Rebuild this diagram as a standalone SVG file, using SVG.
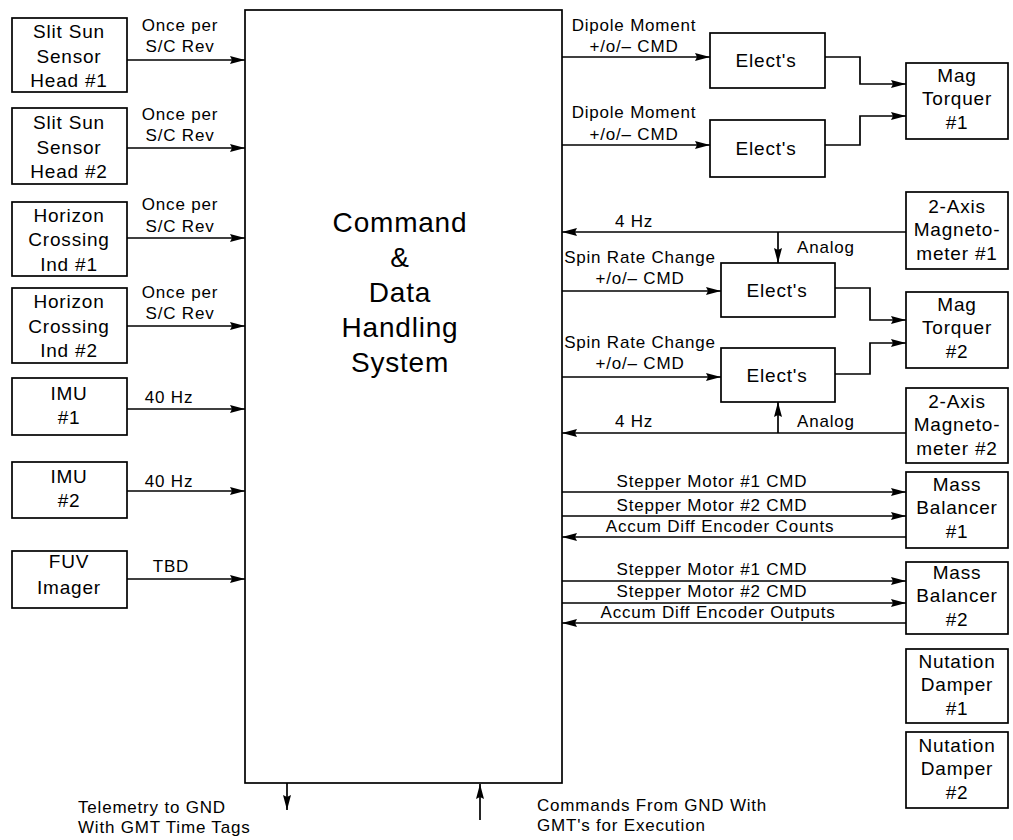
<svg xmlns="http://www.w3.org/2000/svg" width="1013" height="840" viewBox="0 0 1013 840">
<style>
.box{fill:#fff;stroke:#000;stroke-width:1.7}
.ln{fill:none;stroke:#000;stroke-width:1.7}
.arr{marker-end:url(#ah)}
text{font-family:"Liberation Sans",Arial,Helvetica,sans-serif;fill:#000}
.nt{font-size:19px;letter-spacing:0.8px;text-anchor:middle}
.lb{font-size:17px;letter-spacing:0.8px;text-anchor:middle}
.ll{font-size:17px;letter-spacing:0.8px}
.big{font-size:28px;letter-spacing:0.8px;text-anchor:middle}
</style>
<defs>
<marker id="ah" viewBox="0 0 15 9" refX="15" refY="4.5" markerWidth="15" markerHeight="9" markerUnits="userSpaceOnUse" orient="auto">
<path d="M0,0.5 L15,4.5 L0,8.5 L2,4.5 Z" fill="#000"/>
</marker>
</defs>
<rect width="1013" height="840" fill="#fff"/>

<g id="connectors">
<line class="ln arr" x1="127" y1="60" x2="245" y2="60"/>
<line class="ln arr" x1="127" y1="148" x2="245" y2="148"/>
<line class="ln arr" x1="127" y1="238" x2="245" y2="238"/>
<line class="ln arr" x1="127" y1="326" x2="245" y2="326"/>
<line class="ln arr" x1="127" y1="409" x2="245" y2="409"/>
<line class="ln arr" x1="127" y1="491" x2="245" y2="491"/>
<line class="ln arr" x1="127" y1="579" x2="245" y2="579"/>
<line class="ln arr" x1="562" y1="57" x2="710" y2="57"/>
<line class="ln arr" x1="562" y1="145" x2="710" y2="145"/>
<polyline class="ln arr" points="825,57 860,57 860,84 906,84"/>
<polyline class="ln arr" points="825,145 860,145 860,116 906,116"/>
<line class="ln arr" x1="906" y1="232" x2="562" y2="232"/>
<line class="ln arr" x1="778" y1="232" x2="778" y2="263"/>
<line class="ln arr" x1="562" y1="291" x2="721" y2="291"/>
<polyline class="ln arr" points="835,288 870,288 870,320 906,320"/>
<line class="ln arr" x1="562" y1="377" x2="721" y2="377"/>
<polyline class="ln arr" points="835,374 870,374 870,343 906,343"/>
<line class="ln arr" x1="906" y1="433" x2="562" y2="433"/>
<line class="ln arr" x1="778" y1="433" x2="778" y2="402"/>
<line class="ln arr" x1="562" y1="492" x2="906" y2="492"/>
<line class="ln arr" x1="562" y1="516" x2="906" y2="516"/>
<line class="ln arr" x1="906" y1="537" x2="562" y2="537"/>
<line class="ln arr" x1="562" y1="581" x2="906" y2="581"/>
<line class="ln arr" x1="562" y1="603" x2="906" y2="603"/>
<line class="ln arr" x1="906" y1="623" x2="562" y2="623"/>
<line class="ln arr" x1="287" y1="783" x2="287" y2="810"/>
<line class="ln arr" x1="480" y1="820" x2="480" y2="784"/>
</g>

<g id="connector-labels">
<text class="lb" x="180" y="31">Once per</text>
<text class="lb" x="180" y="52">S/C Rev</text>
<text class="lb" x="180" y="120">Once per</text>
<text class="lb" x="180" y="141">S/C Rev</text>
<text class="lb" x="180" y="210">Once per</text>
<text class="lb" x="180" y="232">S/C Rev</text>
<text class="lb" x="180" y="298">Once per</text>
<text class="lb" x="180" y="319">S/C Rev</text>
<text class="lb" x="169" y="403">40 Hz</text>
<text class="lb" x="169" y="487">40 Hz</text>
<text class="lb" x="171" y="572">TBD</text>
<text class="lb" x="634" y="31">Dipole Moment</text>
<text class="lb" x="634" y="52">+/o/– CMD</text>
<text class="lb" x="634" y="118">Dipole Moment</text>
<text class="lb" x="634" y="140">+/o/– CMD</text>
<text class="lb" x="634" y="227">4 Hz</text>
<text class="ll" x="797" y="253">Analog</text>
<text class="lb" x="640" y="263">Spin Rate Change</text>
<text class="lb" x="640" y="284">+/o/– CMD</text>
<text class="lb" x="640" y="348">Spin Rate Change</text>
<text class="lb" x="640" y="369">+/o/– CMD</text>
<text class="lb" x="634" y="427">4 Hz</text>
<text class="ll" x="797" y="427">Analog</text>
<text class="lb" x="712" y="487">Stepper Motor #1 CMD</text>
<text class="lb" x="712" y="511">Stepper Motor #2 CMD</text>
<text class="lb" x="720" y="532">Accum Diff Encoder Counts</text>
<text class="lb" x="712" y="575">Stepper Motor #1 CMD</text>
<text class="lb" x="712" y="597">Stepper Motor #2 CMD</text>
<text class="lb" x="718" y="618">Accum Diff Encoder Outputs</text>
<text class="ll" x="78" y="813">Telemetry to GND</text>
<text class="ll" x="78" y="833">With GMT Time Tags</text>
<text class="ll" x="537" y="811">Commands From GND With</text>
<text class="ll" x="537" y="831">GMT's for Execution</text>
</g>

<g id="cdhs">
<rect class="box" x="245" y="10" width="317" height="773"/>
<text class="big" x="400" y="232">Command</text>
<text class="big" x="400" y="267">&amp;</text>
<text class="big" x="400" y="302">Data</text>
<text class="big" x="400" y="337">Handling</text>
<text class="big" x="400" y="372">System</text>
</g>

<g id="sun1"><rect class="box" x="12" y="18" width="115" height="74"/>
<text class="nt" x="69" y="38">Slit Sun</text><text class="nt" x="69" y="63">Sensor</text><text class="nt" x="69" y="87">Head #1</text></g>
<g id="sun2"><rect class="box" x="12" y="108" width="115" height="76"/>
<text class="nt" x="69" y="129">Slit Sun</text><text class="nt" x="69" y="154">Sensor</text><text class="nt" x="69" y="178">Head #2</text></g>
<g id="hci1"><rect class="box" x="12" y="202" width="115" height="74"/>
<text class="nt" x="69" y="222">Horizon</text><text class="nt" x="69" y="246">Crossing</text><text class="nt" x="69" y="271">Ind #1</text></g>
<g id="hci2"><rect class="box" x="12" y="288" width="115" height="75"/>
<text class="nt" x="69" y="308">Horizon</text><text class="nt" x="69" y="333">Crossing</text><text class="nt" x="69" y="357">Ind #2</text></g>
<g id="imu1"><rect class="box" x="12" y="378" width="115" height="57"/>
<text class="nt" x="69" y="400">IMU</text><text class="nt" x="69" y="424">#1</text></g>
<g id="imu2"><rect class="box" x="12" y="462" width="115" height="56"/>
<text class="nt" x="69" y="483">IMU</text><text class="nt" x="69" y="507">#2</text></g>
<g id="fuv"><rect class="box" x="12" y="551" width="115" height="57"/>
<text class="nt" x="69" y="568">FUV</text><text class="nt" x="69" y="594">Imager</text></g>

<g id="elect1"><rect class="box" x="710" y="33" width="115" height="55"/>
<text class="nt" x="766" y="67">Elect's</text></g>
<g id="elect2"><rect class="box" x="710" y="120" width="115" height="57"/>
<text class="nt" x="766" y="155">Elect's</text></g>
<g id="elect3"><rect class="box" x="721" y="263" width="114" height="54"/>
<text class="nt" x="777" y="297">Elect's</text></g>
<g id="elect4"><rect class="box" x="721" y="348" width="114" height="54"/>
<text class="nt" x="777" y="382">Elect's</text></g>

<g id="torq1"><rect class="box" x="906" y="63" width="102" height="76"/>
<text class="nt" x="957" y="82">Mag</text><text class="nt" x="957" y="105">Torquer</text><text class="nt" x="957" y="129">#1</text></g>
<g id="mag1"><rect class="box" x="906" y="192" width="102" height="77"/>
<text class="nt" x="957" y="213">2-Axis</text><text class="nt" x="957" y="236">Magneto-</text><text class="nt" x="957" y="260">meter #1</text></g>
<g id="torq2"><rect class="box" x="906" y="292" width="102" height="76"/>
<text class="nt" x="957" y="311">Mag</text><text class="nt" x="957" y="334">Torquer</text><text class="nt" x="957" y="358">#2</text></g>
<g id="mag2"><rect class="box" x="906" y="388" width="102" height="75"/>
<text class="nt" x="957" y="408">2-Axis</text><text class="nt" x="957" y="431">Magneto-</text><text class="nt" x="957" y="455">meter #2</text></g>
<g id="mb1"><rect class="box" x="906" y="472" width="102" height="76"/>
<text class="nt" x="957" y="491">Mass</text><text class="nt" x="957" y="514">Balancer</text><text class="nt" x="957" y="538">#1</text></g>
<g id="mb2"><rect class="box" x="906" y="562" width="102" height="72"/>
<text class="nt" x="957" y="579">Mass</text><text class="nt" x="957" y="602">Balancer</text><text class="nt" x="957" y="626">#2</text></g>
<g id="nd1"><rect class="box" x="906" y="649" width="102" height="74"/>
<text class="nt" x="957" y="668">Nutation</text><text class="nt" x="957" y="691">Damper</text><text class="nt" x="957" y="715">#1</text></g>
<g id="nd2"><rect class="box" x="906" y="732" width="102" height="76"/>
<text class="nt" x="957" y="752">Nutation</text><text class="nt" x="957" y="775">Damper</text><text class="nt" x="957" y="799">#2</text></g>
</svg>
